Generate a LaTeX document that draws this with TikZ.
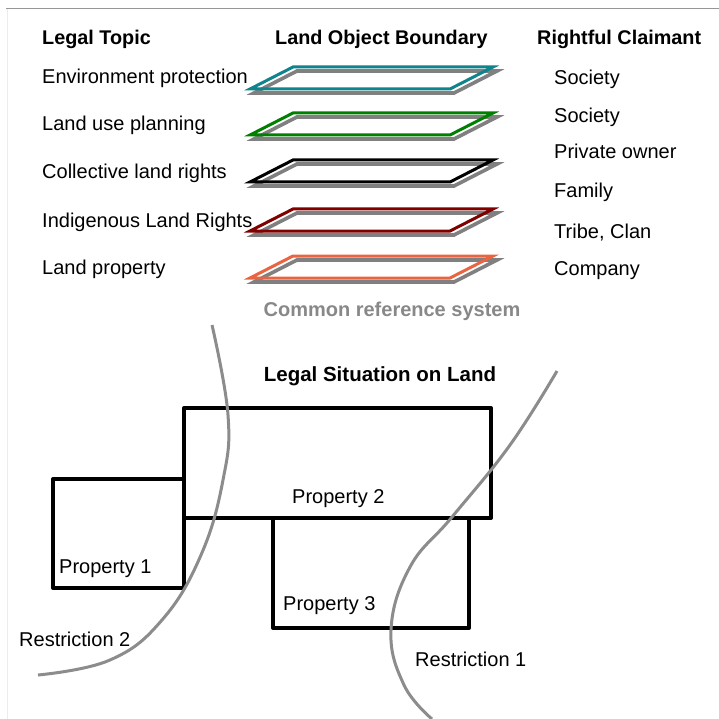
\documentclass[tikz,border=0pt]{standalone}
\usepackage{fontspec}
\setmainfont{Liberation Sans}
\begin{document}
\begin{tikzpicture}[x=1pt,y=-1pt,
  txt/.style={font=\fontsize{20}{24}\selectfont, inner sep=0pt, anchor=base west},
  head/.style={font=\fontsize{19.8}{24}\selectfont\bfseries, inner sep=0pt, anchor=base west},
  shadow/.style={draw=shadowgray, line width=3.6pt, line join=miter},
  layer/.style={line width=3pt, line join=miter},
  parcel/.style={draw=black, line width=4pt, line join=round},
  restriction/.style={draw=curvegray, line width=3pt, line cap=butt}]
\definecolor{shadowgray}{RGB}{128,128,128}
\definecolor{curvegray}{RGB}{140,140,140}
\definecolor{teallayer}{RGB}{16,132,140}
\definecolor{greenlayer}{RGB}{0,128,0}
\definecolor{redlayer}{RGB}{128,0,0}
\definecolor{orangelayer}{RGB}{235,100,65}
\definecolor{refgray}{RGB}{136,136,136}
\definecolor{framegray}{RGB}{150,150,150}
\definecolor{edgegray}{RGB}{236,236,236}

\useasboundingbox (0,0) rectangle (719,719);
\fill[white] (0,0) rectangle (719,719);

% frame lines
\draw[framegray, line width=1pt] (6,9) -- (719,9);
\draw[edgegray, line width=1pt] (7,9) -- (7,719);

% column headings
\node[head] (hTopic) at (42,45) {Legal Topic};
\node[head] (hBound) at (275,45) {Land Object Boundary};
\node[head] (hClaim) at (537,45) {Rightful Claimant};

% legal topics
\node[txt] (t1) at (42,84) {Environment protection};
\node[txt] (t2) at (42,131) {Land use planning};
\node[txt] (t3) at (42,179) {Collective land rights};
\node[txt] (t4) at (42,227) {Indigenous Land Rights};
\node[txt] (t5) at (42,274) {Land property};

% rightful claimants
\node[txt] (c1) at (554,85) {Society};
\node[txt] (c2) at (554,123) {Society};
\node[txt] (c3) at (554,159) {Private owner};
\node[txt] (c4) at (554,198) {Family};
\node[txt] (c5) at (554,238) {Tribe, Clan};
\node[txt] (c6) at (554,275) {Company};

% layered boundaries with drop shadow
\foreach \top/\col in {67/teallayer, 113/greenlayer, 160/black, 209/redlayer, 256/orangelayer}{
  \pgfmathsetmacro{\bot}{\top+22}
  \draw[shadow] (297,\top+4) -- (497,\top+4) -- (454,\bot+4) -- (254,\bot+4) -- cycle;
  \draw[layer, draw=\col] (293,\top) -- (493,\top) -- (450,\bot) -- (250,\bot) -- cycle;
}

\node[font=\fontsize{20}{24}\selectfont\bfseries, text=refgray, inner sep=0pt] (ref) at (392,311) {Common reference system};
\node[font=\fontsize{20.5}{24}\selectfont\bfseries, inner sep=0pt] (sit) at (380,376) {Legal Situation on Land};

% parcels
\draw[parcel] (184,408) rectangle (491,518);
\draw[parcel] (53,479) -- (184,479) -- (184,588) -- (53,588) -- cycle;
\draw[parcel] (273,518) -- (273,628) -- (469,628) -- (469,518);

\node[txt] (p1) at (59,573) {Property 1};
\node[txt] (p2) at (292,503) {Property 2};
\node[txt] (p3) at (283,610) {Property 3};

% restriction boundaries
\draw[restriction] plot[smooth, tension=0.7] coordinates {(212,325) (228,415) (223,480) (201,555) (162,620) (110,660) (38,675)};
\draw[restriction] plot[smooth, tension=0.7] coordinates {(557,371) (510,445) (452,517) (410,567) (391,630) (404,685) (432,719)};

\node[txt] (r1) at (415,666) {Restriction 1};
\node[txt] (r2) at (19,646) {Restriction 2};
\end{tikzpicture}
\end{document}
